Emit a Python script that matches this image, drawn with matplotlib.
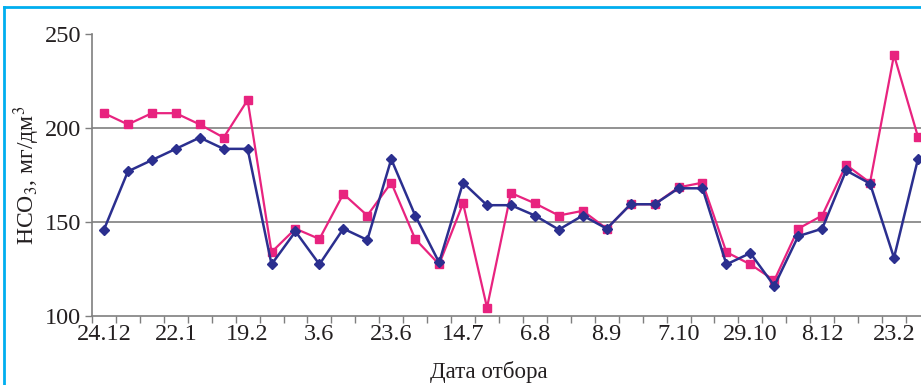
import matplotlib
matplotlib.use("Agg")
import matplotlib.pyplot as plt
from matplotlib.lines import Line2D
import numpy as np

dates = ["24.12", "", "", "22.1", "", "", "19.2", "", "", "3.6", "", "", "23.6", "", "",
         "14.7", "", "", "6.8", "", "", "8.9", "", "", "7.10", "", "", "29.10", "", "",
         "8.12", "", "", "23.2", ""]

pink = [208, 202, 208, 208, 202, 195, 215, 134, 146.5, 141, 165, 153.5, 171, 141, 127.5,
        160, 104.5, 165.5, 160, 153.5, 156, 146.5, 159.5, 159.5, 168.5, 171, 134, 127.5,
        119, 146.5, 153.5, 180.5, 171, 239, 195.5]
blue = [146, 177, 183, 189, 195, 189, 189, 127.5, 145, 127.5, 146.5, 140.5, 183.5, 153.5, 128.5,
        171, 159, 159, 153.5, 146, 153.5, 146.5, 159.5, 159.5, 168, 168, 127.5, 133.5,
        116, 142.5, 146.5, 177.5, 170.5, 131, 183.5]

plt.rcParams['font.family'] = ['Liberation Serif', 'DejaVu Serif']
plt.rcParams['mathtext.fontset'] = 'stix'

W, H = 921, 385
FS = 17.5
TXT = '#231F20'
fig = plt.figure(figsize=(W/100, H/100), dpi=100)
ax_left = 92 / W
ax_bottom = (H - 316) / H
ax_top = (H - 34.3) / H
ax_width = 35 * 23.94 / W
ax = fig.add_axes([ax_left, ax_bottom, ax_width, ax_top - ax_bottom])

x = np.arange(len(pink))
ax.plot(x, pink, color='#E8237F', lw=1.6, marker='s', ms=5.5, mec='#E8237F', zorder=3)
ax.plot(x, blue, color='#2B2F8F', lw=1.8, marker='D', ms=5, mec='#2B2F8F', zorder=4)

ax.set_xlim(-0.5, len(pink) - 0.5)
ax.set_ylim(100, 250)
ax.set_yticks([100, 150, 200, 250])
for yv in [150, 200]:
    ax.axhline(yv, color='#7f7f7f', lw=1.2, zorder=1)

ax.set_xticks(x)
ax.set_xticklabels(dates)
ax.set_xticks(np.arange(-0.5, len(pink) + 0.5, 1), minor=True)
ax.tick_params(axis='x', which='major', length=0, pad=6, labelsize=FS, colors=TXT)
ax.tick_params(axis='x', which='minor', length=5, width=1, color='#7f7f7f', direction='out')
ax.tick_params(axis='y', length=5, width=1, color='#7f7f7f', pad=3, labelsize=FS,
               labelcolor=TXT)

for s in ['top', 'right']:
    ax.spines[s].set_visible(False)
for s in ['left', 'bottom']:
    ax.spines[s].set_color('#7f7f7f')
    ax.spines[s].set_linewidth(1.2)

fig.text(27 / W, 1 - 175 / H, r"HCO$_3$, мг/дм$^3$", rotation=90, ha='center', va='center',
         fontsize=FS - 0.5, color=TXT)
fig.text(489 / W, 1 - 372 / H, "Дата отбора", ha='center', va='center', fontsize=FS - 1,
         color=TXT)

fig.add_artist(Line2D([4 / W, 4 / W], [0, 1 - 7 / H], color='#00AEEF', lw=2,
                      transform=fig.transFigure))
fig.add_artist(Line2D([4 / W, 1], [1 - 7 / H, 1 - 7 / H], color='#00AEEF', lw=2,
                      transform=fig.transFigure))

fig.savefig("out.png", dpi=100)
